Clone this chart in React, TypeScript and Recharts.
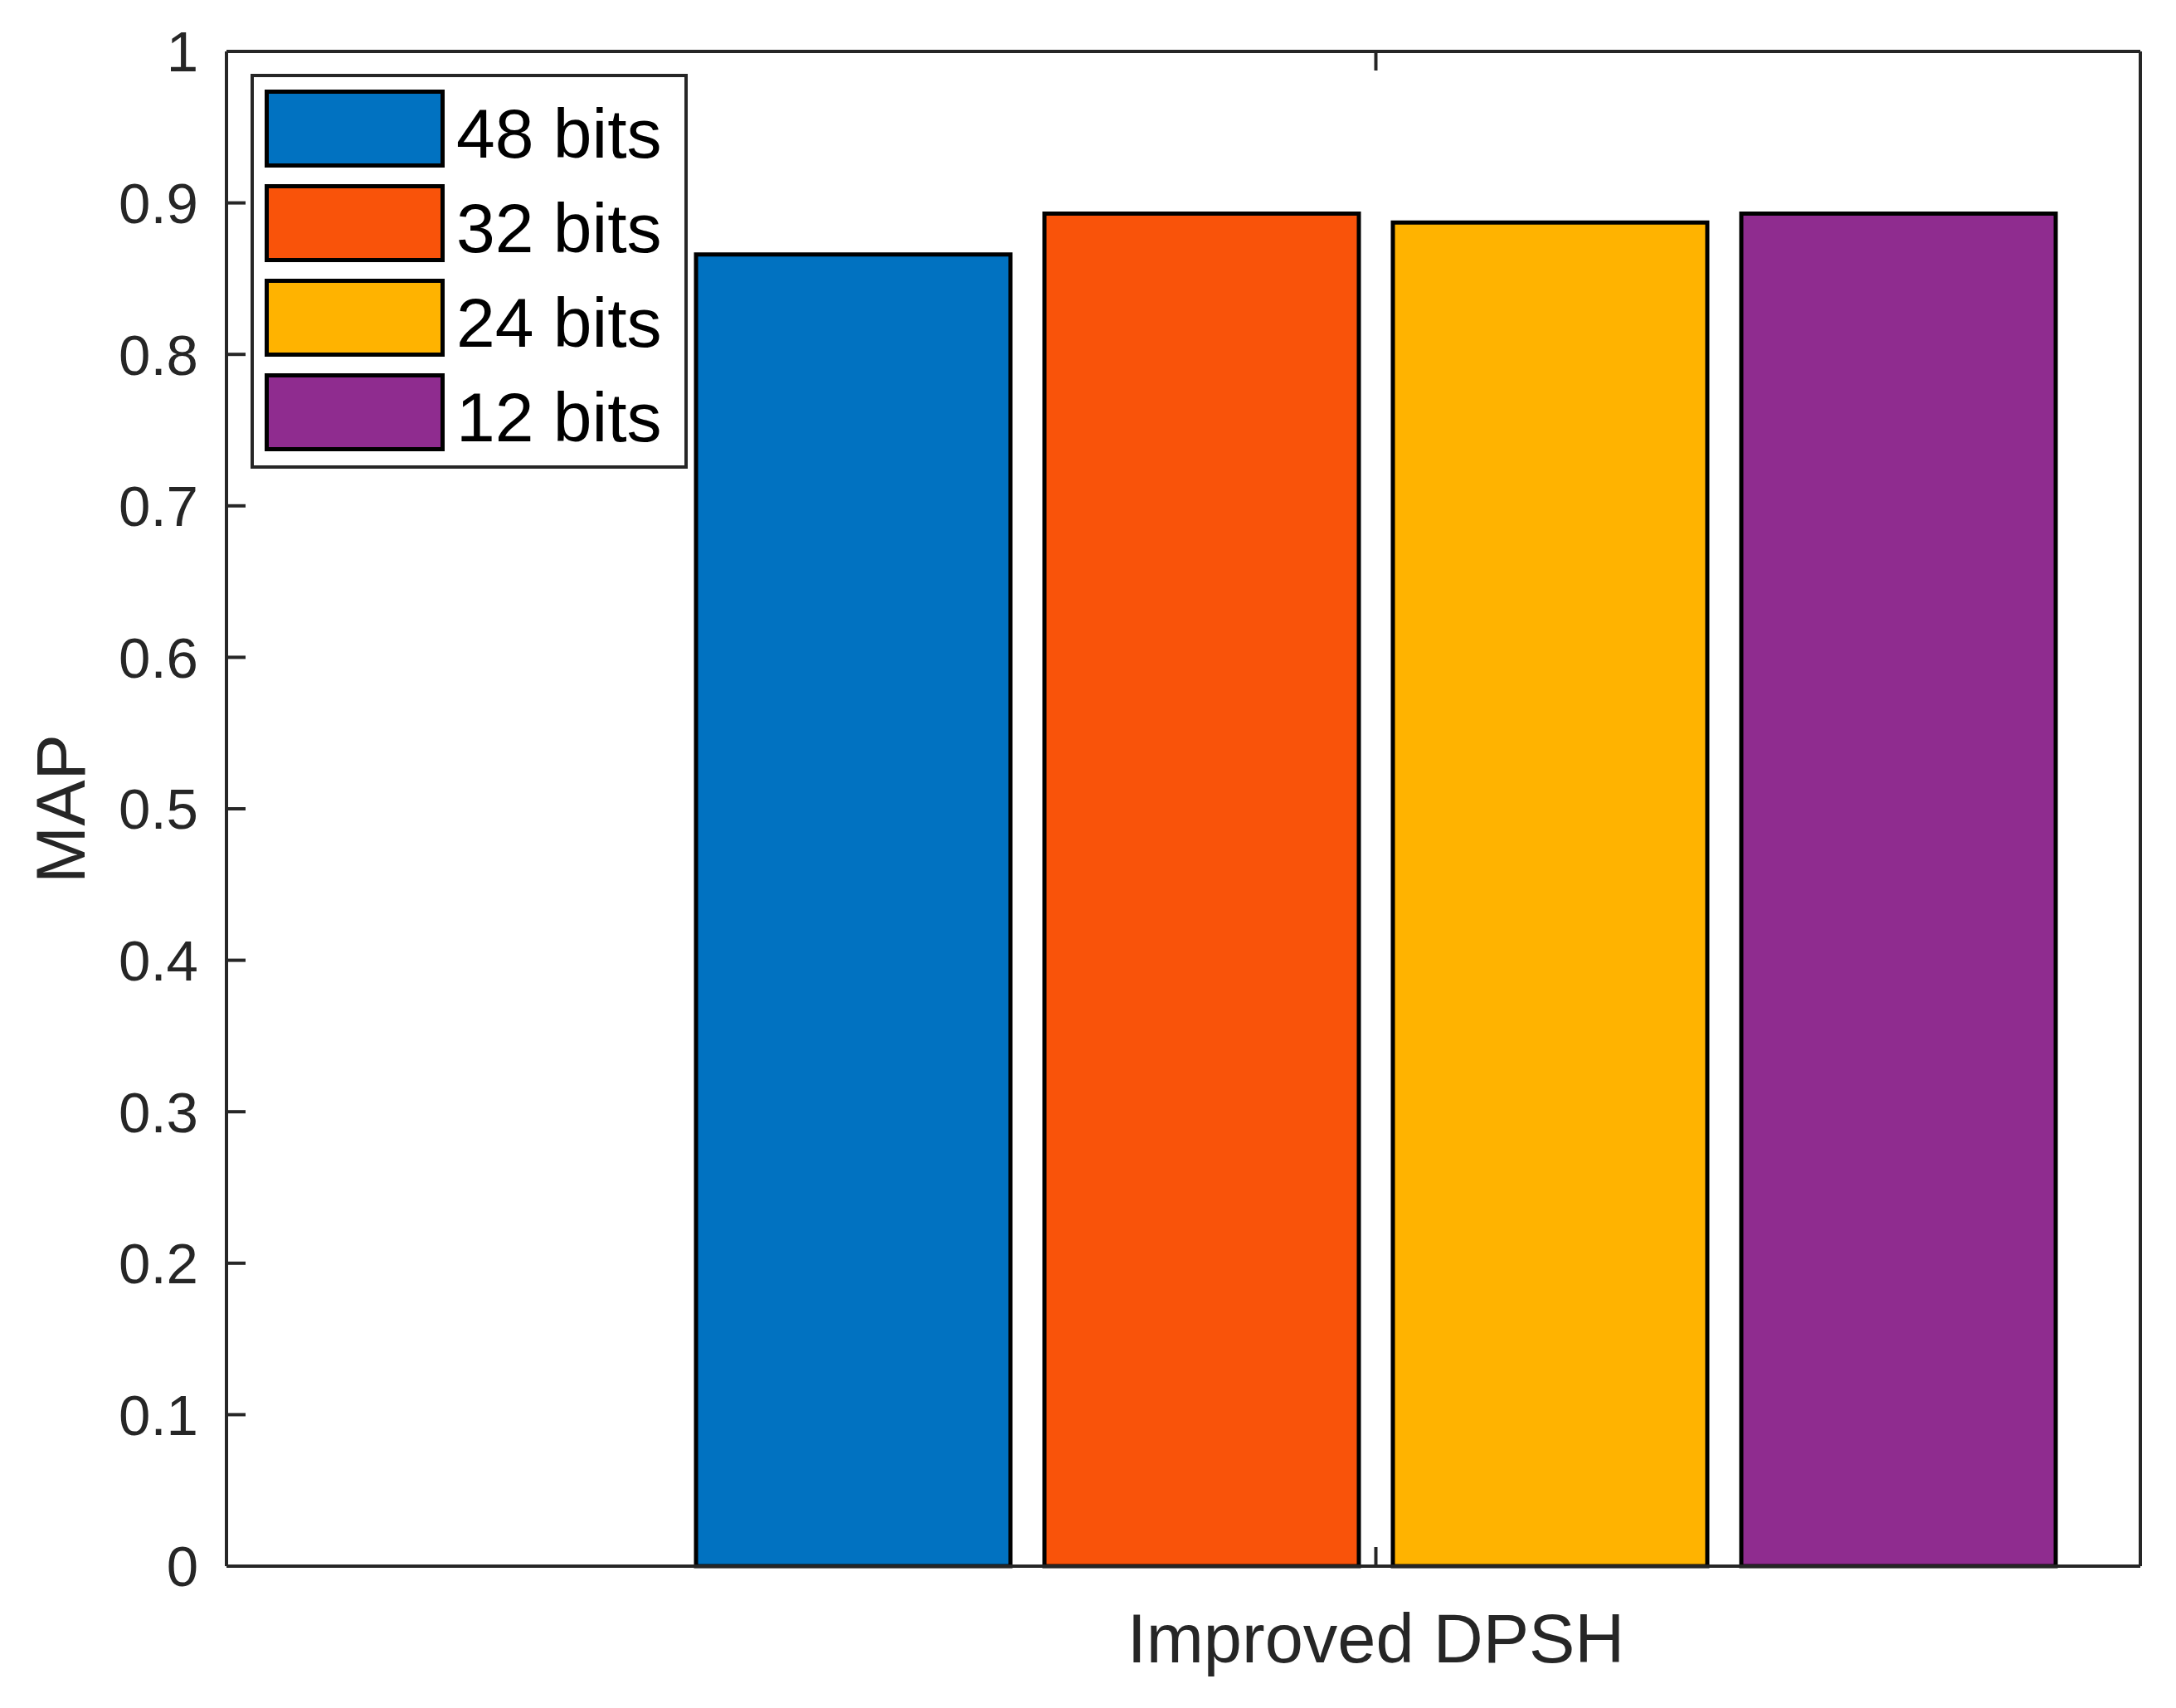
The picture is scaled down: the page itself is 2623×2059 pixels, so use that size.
import { BarChart, Bar, XAxis, YAxis, Legend } from "recharts";

// values
const categories = ["Improved DPSH"];
const seriesNames = ["48 bits", "32 bits", "24 bits", "12 bits"];
const seriesKeys = ["b48", "b32", "b24", "b12"];
const map48 = [0.866];
const map32 = [0.893];
const map24 = [0.887];
const map12 = [0.893];
const yTicks = [0, 0.1, 0.2, 0.3, 0.4, 0.5, 0.6, 0.7, 0.8, 0.9, 1];

const COLORS = ["#0172C1", "#F9530A", "#FFB300", "#8F2C8F"];
const AXIS = "#262626";
const FONT = '"Liberation Sans", Arial, Helvetica, sans-serif';

const data = categories.map((name, i) => ({
    name,
    b48: map48[i],
    b32: map32[i],
    b24: map24[i],
    b12: map12[i],
}));

const axisLine = { stroke: AXIS, strokeWidth: 4 };

const LegendBox = ({ payload }: any) => {
    // keep the series order (48, 32, 24, 12) from top to bottom
    const items = [...(payload || [])].sort(
        (a: any, b: any) => seriesNames.indexOf(a.value) - seriesNames.indexOf(b.value)
    );
    return (
        <div
            style={{
                width: 527,
                height: 476,
                boxSizing: "border-box",
                border: `4px solid ${AXIS}`,
                background: "#fff",
                position: "relative",
                fontFamily: FONT,
            }}
        >
            {items.map((entry: any, i: number) => (
                <div key={i}>
                    <div
                        style={{
                            position: "absolute",
                            left: 13,
                            top: 15 + i * 114,
                            width: 217,
                            height: 94,
                            boxSizing: "border-box",
                            border: "5px solid #000",
                            background: entry.color,
                        }}
                    />
                    <div
                        style={{
                            position: "absolute",
                            left: 244,
                            top: 21 + i * 114,
                            height: 94,
                            lineHeight: "94px",
                            fontSize: 84,
                            color: "#000",
                            whiteSpace: "nowrap",
                        }}
                    >
                        {entry.value}
                    </div>
                </div>
            ))}
        </div>
    );
};

const MapLabel = ({ viewBox }: any) => {
    const cy = viewBox.y + viewBox.height / 2;
    const bx = 102;
    return (
        <text
            x={bx}
            y={cy}
            transform={`rotate(-90, ${bx}, ${cy})`}
            textAnchor="middle"
            fontFamily={FONT}
            fontSize={83}
            fill={AXIS}
        >
            MAP
        </text>
    );
};

export default function App() {
    const pad = { left: 566, right: 102 };
    return (
        <div style={{ position: "absolute", left: 0, top: 0, background: "#fff" }}>
            <BarChart
                width={2623}
                height={2059}
                data={data}
                margin={{ top: 60, right: 41, bottom: 71, left: 73 }}
                barCategoryGap={0}
                barGap={41}
            >
                <XAxis
                    xAxisId="bottom"
                    dataKey="name"
                    orientation="bottom"
                    height={100}
                    padding={pad}
                    tickSize={-23}
                    tickMargin={80}
                    axisLine={axisLine}
                    tick={{ fontSize: 83, fontFamily: FONT, fill: AXIS }}
                    tickLine={axisLine}
                />
                <XAxis
                    xAxisId="top"
                    dataKey="name"
                    orientation="top"
                    height={2}
                    padding={pad}
                    tickSize={-23}
                    tickFormatter={() => ""}
                    axisLine={axisLine}
                    tickLine={axisLine}
                />
                <YAxis
                    yAxisId="left"
                    orientation="left"
                    width={200}
                    domain={[0, 1]}
                    ticks={yTicks}
                    interval={0}
                    tickSize={-23}
                    tickMargin={57}
                    axisLine={axisLine}
                    tick={{ fontSize: 69, fontFamily: FONT, fill: AXIS }}
                    tickLine={axisLine}
                    label={<MapLabel />}
                />
                <YAxis
                    yAxisId="right"
                    orientation="right"
                    width={2}
                    domain={[0, 1]}
                    ticks={yTicks}
                    interval={0}
                    tickSize={-23}
                    tickFormatter={() => ""}
                    axisLine={axisLine}
                    tickLine={axisLine}
                />
                <Legend
                    layout="vertical"
                    align="center"
                    verticalAlign="middle"
                    content={<LegendBox />}
                    wrapperStyle={{ left: 302, top: 89, width: 527, height: 476 }}
                />
                {seriesKeys.map((key, i) => (
                    <Bar
                        key={key}
                        xAxisId="bottom"
                        yAxisId="left"
                        dataKey={key}
                        name={seriesNames[i]}
                        fill={COLORS[i]}
                        stroke="#000"
                        strokeWidth={5}
                        isAnimationActive={false}
                    />
                ))}
            </BarChart>
        </div>
    );
}
